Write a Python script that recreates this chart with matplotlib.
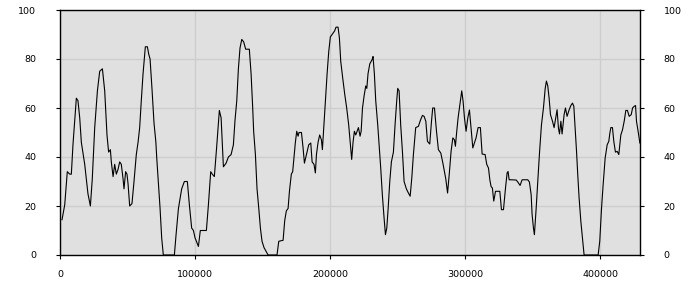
import matplotlib
matplotlib.use("Agg")
import matplotlib.pyplot as plt

# ─── Data ──────────────────────────────────────────────────────────────────────
x_vals = [
    1500, 3500, 5400, 7200, 8400, 9600, 12100, 13300, 14600, 15800,
    18300, 20700, 22500, 23900, 25700, 27700, 29400, 31400, 33100, 34800,
    36000, 37300, 38000, 39300, 40500, 41700, 43000, 44200, 45400, 46700,
    47400, 48600, 49600, 50400, 51600, 53300, 54800, 56500, 57800, 59000,
    60200, 61500, 63200, 64700, 65700, 66700, 68100, 69600, 71000, 71600,
    72800, 74100, 75300, 76500, 84700, 85900, 87700, 90100, 92100, 94300,
    95800, 97500, 98800, 100000, 102500, 103900, 108400, 109900, 111600, 112800,
    114300, 116000, 118000, 119300, 121000, 123000, 124700, 126700, 128400, 129600,
    130900, 132100, 133300, 134600, 136000, 137500, 140200, 141500, 142700, 143400,
    144700, 145900, 147200, 148400, 149600, 151100, 152600, 154100, 160700, 162000,
    165200, 166400, 167600, 168900, 169900, 171300, 172300, 173300, 174300, 175300,
    176300, 177000, 178800, 180000, 181000, 182500, 184200, 185700, 186700, 188100,
    189100, 189900, 191100, 192300, 193600, 194300, 195300, 196500, 197800, 199000,
    200200, 201500, 203400, 204400, 205900, 206900, 207900, 209400, 210900, 212300,
    213800, 215300, 216000, 217000, 218000, 219000, 220000, 221000, 222200, 223000,
    224000, 225200, 226400, 227200, 228100, 229400, 230400, 231300, 231800, 232800,
    233800, 235300, 236300, 237500, 238700, 240000, 241000, 242000, 243000, 244200,
    245400, 246900, 248100, 249400, 250100, 251100, 252300, 253600, 254800, 256500,
    258000, 259300, 260500, 261700, 263400, 265400, 266900, 268400, 269600, 270900,
    272100, 273800, 275100, 276000, 277300, 278800, 280200, 282000, 283700, 285700,
    287000, 288400, 289600, 290900, 292100, 292800, 293800, 294800, 295800, 297000,
    297500, 298500, 299500, 300700, 302000, 303200, 304400, 305700, 306900, 308100,
    309600, 311300, 312600, 314800, 316000, 317300, 318300, 319200, 320200, 321200,
    322500, 325700, 326900, 328400, 329900, 331100, 331800, 332600, 334300, 337800,
    339000, 340700, 342200, 346400, 347600, 348900, 349600, 350600, 351300, 352600,
    353800, 355000, 356500, 358000, 359300, 360200, 361200, 362200, 363200, 364700,
    365900, 367100, 368100, 369100, 369900, 370900, 371800, 373300, 374300, 375500,
    377000, 378300, 379500, 380500, 381500, 382500, 383400, 384400, 385700, 386900,
    388100, 398500, 399700, 401000, 402200, 403700, 405200, 406400, 407200, 407900,
    409100, 410100, 411300, 412600, 413800, 415300, 416500, 417800, 419000, 420200,
    421500, 423000, 424000, 425200, 426200, 426900, 428100, 429400,
]
y_vals = [
    14.4, 20.5, 34, 33, 33, 45, 64, 63, 56, 46,
    37, 25, 20, 31, 52, 67, 75, 76, 67, 49,
    42, 43, 38, 32, 37, 33, 35, 38, 37, 31,
    27, 34, 33, 29, 20, 21, 30, 41, 46, 52,
    63, 74, 85, 85, 82, 80, 68, 54, 46, 40,
    30, 19, 7, 0, 0, 8, 19, 27, 30, 30,
    20.5, 11, 10, 7, 3.5, 10, 10, 20.5, 34, 33,
    32, 44, 59, 56, 36, 37.5, 40, 41, 45, 55,
    63, 76, 84.5, 88, 87, 84, 84, 74, 60, 50.5,
    41, 27, 19, 11, 5.6, 3, 1.5, 0, 0, 5.6,
    6, 14, 18, 19, 26, 33, 34, 40, 46, 50.5,
    48.5, 50, 50, 43.7, 37.5, 41, 45, 45.7, 38, 37,
    33.5, 41, 46, 49, 47, 43, 52, 63, 74, 83,
    89, 90, 91.5, 93, 93, 88.6, 79, 72, 65.4, 60,
    53, 43.7, 39, 46, 50.5, 49, 50.5, 52, 48.5, 50.5,
    60, 65, 69, 68, 74, 78, 79, 80, 81, 74,
    63, 53, 45, 35.5, 24.6, 15, 8.3, 11, 19, 30,
    38, 42, 53, 63.4, 68, 67, 53, 42, 30, 27,
    25.3, 24, 31.4, 41, 52, 52.5, 55, 57, 56.6, 54.6,
    46.4, 45.3, 54.6, 60, 60, 50.5, 43, 41.6, 37, 31,
    25.3, 34, 42.3, 47.8, 47, 44.4, 50.5, 56, 60, 65,
    67, 62.7, 56, 50.5, 56, 59.2, 51.8, 43.7, 45.7, 47.8,
    52, 52, 41.2, 41, 37, 35.5, 30.7, 28, 27.3, 22,
    26, 26, 18.5, 18.5, 27.3, 33.5, 34.1, 30.7, 30.7, 30.6,
    29.8, 28.4, 30.7, 30.7, 29.8, 24.6, 16.5, 11, 8.3, 19,
    30, 41, 53, 60, 68, 71, 69, 64, 57.3, 54.6,
    52, 56, 59.3, 51.8, 49.4, 54.6, 49.4, 57.3, 60, 56.6,
    59.2, 61, 62, 60.7, 51.8, 42.3, 32.8, 23.3, 13.7, 7,
    0, 0, 5.6, 19, 28.7, 39.6, 45, 46.4, 49.8, 52,
    52, 46.4, 42, 42.3, 41, 49, 51, 54.6, 59, 59,
    56.6, 57.3, 60, 60.7, 61, 54.6, 50.5, 45.7,
]
x_ticks = [0, 100000, 200000, 300000, 400000]
y_ticks = [0, 20, 40, 60, 80, 100]

# ─── Plot ──────────────────────────────────────────────────────────────────────
fig = plt.figure(figsize=(7, 3), dpi=100)
ax = fig.add_axes([60 / 700, 45 / 300, 580 / 700, 245 / 300])
ax.set_facecolor("#e0e0e0")

ax.plot(x_vals, y_vals, color="black", linewidth=0.8)

ax.set_xlim(0, 429500)
ax.set_ylim(0, 100)
ax.set_xticks(x_ticks)
ax.set_yticks(y_ticks)
ax.set_xticklabels([str(t) for t in x_ticks])

ax.grid(True, color="#cdcdcd", linewidth=1)
ax.set_axisbelow(True)

ax.tick_params(axis="both", direction="out", length=3, width=0.8,
               labelsize=6.8, colors="black")
ax.tick_params(axis="x", pad=8)
ax.tick_params(axis="y", pad=14, right=True, labelright=True)

for s in ax.spines.values():
    s.set_color("black")
    s.set_linewidth(1)

fig.savefig("out.png", dpi=100)
